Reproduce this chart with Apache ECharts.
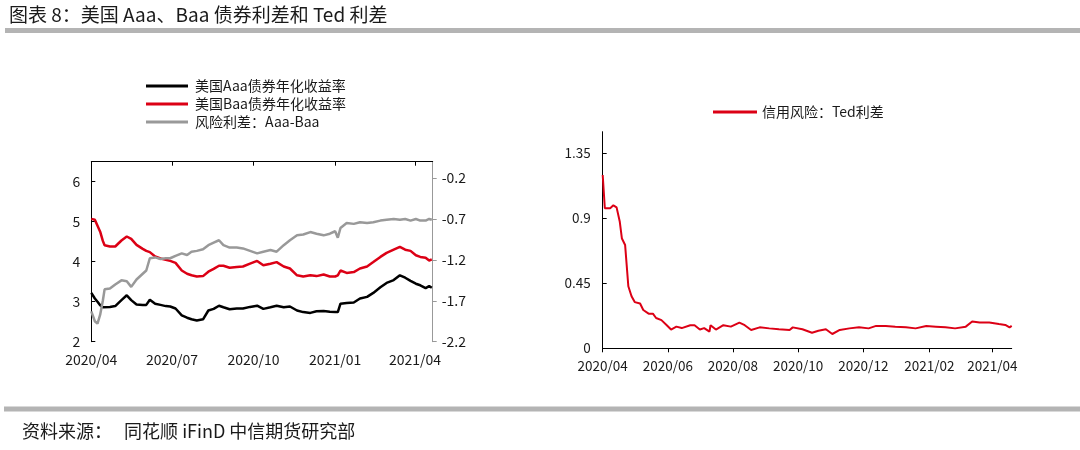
<!DOCTYPE html>
<html>
<head>
<meta charset="utf-8">
<script src="https://cdn.jsdelivr.net/npm/echarts@6/dist/echarts.min.js"></script>
<style>
html,body{margin:0;padding:0;background:#fff;}
#chart{width:1080px;height:450px;}
</style>
</head>
<body>
<div id="chart"></div>
<script>
// ---------- data ----------
const titleText = '图表 8：美国 Aaa、Baa 债券利差和 Ted 利差';
const sourceText = '资料来源：   同花顺 iFinD 中信期货研究部';

const leftNames = ['美国Aaa债券年化收益率', '美国Baa债券年化收益率', '风险利差：Aaa-Baa'];
const rightName = '信用风险：Ted利差';

const leftDates = ['2020-04-01','2020-04-05','2020-04-08','2020-04-11','2020-04-14','2020-04-16','2020-04-22','2020-04-28',
  '2020-05-05','2020-05-11','2020-05-16','2020-05-22','2020-05-29','2020-06-02','2020-06-06','2020-06-12','2020-06-18',
  '2020-06-24','2020-06-29','2020-07-05','2020-07-12','2020-07-18','2020-07-23','2020-07-29','2020-08-05','2020-08-11',
  '2020-08-17','2020-08-23','2020-08-28','2020-09-04','2020-09-12','2020-09-19','2020-09-27','2020-10-05','2020-10-12',
  '2020-10-20','2020-10-27','2020-11-04','2020-11-11','2020-11-19','2020-11-26','2020-12-04','2020-12-11','2020-12-19',
  '2020-12-26','2021-01-01','2021-01-04','2021-01-07','2021-01-14','2021-01-22','2021-01-29','2021-02-06','2021-02-13',
  '2021-02-21','2021-02-28','2021-03-08','2021-03-15','2021-03-21','2021-03-27','2021-04-02','2021-04-07','2021-04-13',
  '2021-04-17','2021-04-20'];
const aaaValues = [3.22,3.08,3.00,2.91,2.86,2.83,2.87,2.89,
  3.04,3.16,3.04,2.93,2.92,2.92,3.05,2.95,2.92,
  2.89,2.88,2.83,2.66,2.60,2.56,2.53,2.56,2.78,
  2.82,2.90,2.86,2.81,2.83,2.83,2.87,2.90,2.82,
  2.86,2.90,2.86,2.88,2.78,2.74,2.72,2.76,2.77,
  2.75,2.74,2.74,2.95,2.97,2.98,3.08,3.12,3.22,
  3.36,3.47,3.54,3.66,3.60,3.52,3.45,3.41,3.34,
  3.39,3.35];
const baaValues = [5.07,5.05,4.90,4.75,4.52,4.41,4.38,4.38,
  4.53,4.63,4.57,4.42,4.32,4.27,4.24,4.13,4.08,
  4.05,4.02,3.97,3.78,3.70,3.66,3.63,3.64,3.75,
  3.82,3.90,3.90,3.85,3.87,3.88,3.95,4.02,3.91,
  3.95,3.99,3.88,3.83,3.66,3.63,3.66,3.64,3.68,
  3.63,3.63,3.66,3.78,3.72,3.74,3.83,3.88,3.99,
  4.12,4.22,4.30,4.37,4.30,4.27,4.16,4.12,4.10,
  4.03,4.06];
const spreadValues = [-1.83,-1.95,-1.98,-1.87,-1.70,-1.56,-1.55,-1.50,
  -1.45,-1.46,-1.53,-1.44,-1.37,-1.33,-1.18,-1.17,-1.19,
  -1.18,-1.18,-1.15,-1.12,-1.14,-1.10,-1.09,-1.07,-1.02,
  -0.99,-0.96,-1.02,-1.05,-1.05,-1.06,-1.09,-1.12,-1.10,
  -1.08,-1.10,-1.02,-0.96,-0.90,-0.89,-0.86,-0.88,-0.90,
  -0.88,-0.85,-0.93,-0.81,-0.75,-0.76,-0.74,-0.75,-0.74,
  -0.72,-0.71,-0.70,-0.71,-0.70,-0.72,-0.70,-0.72,-0.72,
  -0.70,-0.71];

const tedDates = ['2020-04-01','2020-04-03','2020-04-08','2020-04-11','2020-04-14','2020-04-17','2020-04-19','2020-04-22',
  '2020-04-25','2020-04-28','2020-05-01','2020-05-06','2020-05-09','2020-05-14','2020-05-18','2020-05-21','2020-05-26',
  '2020-05-31','2020-06-04','2020-06-09','2020-06-14','2020-06-22','2020-06-26','2020-07-01','2020-07-05','2020-07-10',
  '2020-07-11','2020-07-16','2020-07-23','2020-07-30','2020-08-07','2020-08-12','2020-08-18','2020-08-26','2020-09-04',
  '2020-09-13','2020-09-23','2020-09-26','2020-10-05','2020-10-14','2020-10-20','2020-10-27','2020-11-02','2020-11-09',
  '2020-11-18','2020-11-27','2020-12-06','2020-12-13','2020-12-22','2020-12-31','2021-01-10','2021-01-19','2021-01-29',
  '2021-02-07','2021-02-16','2021-02-25','2021-03-07','2021-03-13','2021-03-20','2021-03-29','2021-04-07','2021-04-13',
  '2021-04-17','2021-04-19'];
const tedValues = [1.20,0.97,0.97,0.99,0.976,0.876,0.76,0.715,
  0.43,0.36,0.32,0.31,0.265,0.24,0.24,0.21,0.195,
  0.16,0.13,0.15,0.14,0.16,0.16,0.13,0.14,0.115,
  0.16,0.13,0.16,0.15,0.178,0.16,0.127,0.145,0.138,
  0.132,0.127,0.145,0.132,0.108,0.122,0.132,0.099,0.127,
  0.138,0.145,0.138,0.155,0.155,0.150,0.145,0.138,0.155,
  0.150,0.145,0.138,0.150,0.185,0.178,0.178,0.168,0.162,
  0.145,0.155];

const leftXTicks = ['2020-04-01','2020-07-01','2020-10-01','2021-01-01','2021-04-01'];
const rightXTicks = ['2020-04-01','2020-06-01','2020-08-01','2020-10-01','2020-12-01','2021-02-01','2021-04-01'];
const leftXRange = ['2020-04-01', '2021-04-21'];
const rightXRange = ['2020-04-01', '2021-04-19'];
const leftYTicks = [2,3,4,5,6];
const spreadYTicks = [-2.2,-1.7,-1.2,-0.7,-0.2];
const tedYTicks = [0,0.45,0.9,1.35];

// ---------- chart ----------
const FONT = '"Noto Sans CJK SC", "Noto Sans", sans-serif';
const ts = s => { const p = s.split('-').map(Number); return new Date(p[0], p[1] - 1, p[2]).getTime(); };
const pair = (dates, vals) => dates.map((d, i) => [ts(d), vals[i]]);
const fmtMonth = v => { const d = new Date(v); const m = d.getMonth() + 1; return d.getFullYear() + '/' + (m < 10 ? '0' + m : m); };

const chart = echarts.init(document.getElementById('chart'));
const axisTxt = { color: '#1a1a1a', fontFamily: FONT, fontSize: 14 };

function dateAxis(grid, range, ticks, fontSize) {
  const tv = ticks.map(ts);
  return {
    type: 'value', gridIndex: grid, min: ts(range[0]), max: ts(range[1]), scale: true,
    axisLine: { show: true, lineStyle: { color: '#000', width: 1 } },
    axisTick: { show: true, customValues: tv, length: 4, lineStyle: { color: '#000' } },
    axisLabel: Object.assign({ customValues: tv, formatter: fmtMonth, margin: 11 }, axisTxt, { fontSize: fontSize }),
    splitLine: { show: false }
  };
}

chart.setOption({
  backgroundColor: '#fff',
  animation: false,
  title: [
    { text: titleText, left: 4, top: 0, textStyle: { fontFamily: FONT, fontSize: 19, fontWeight: 'normal', color: '#1a1a1a' } },
    { text: sourceText, left: 17, top: 417, textStyle: { fontFamily: FONT, fontSize: 18, fontWeight: 'normal', color: '#1a1a1a' } }
  ],
  graphic: [
    { type: 'rect', shape: { x: 5, y: 28, width: 1075, height: 5 }, style: { fill: '#b4b4b4' } },
    { type: 'rect', shape: { x: 4, y: 406.5, width: 1076, height: 5 }, style: { fill: '#b4b4b4' } }
  ],
  legend: [
    { data: leftNames, orient: 'vertical', left: 141, top: 74, icon: 'rect', itemWidth: 42, itemHeight: 3, itemGap: 4,
      textStyle: { fontFamily: FONT, fontSize: 14, color: '#1a1a1a', padding: [0, 0, 0, 2] } },
    { data: [rightName], left: 708, top: 100, icon: 'rect', itemWidth: 44, itemHeight: 3,
      textStyle: { fontFamily: FONT, fontSize: 14, color: '#1a1a1a' } }
  ],
  grid: [
    { left: 91.3, top: 161.7, width: 341.4, height: 180 },
    { left: 602.7, top: 131.7, width: 409, height: 216.6 }
  ],
  xAxis: [
    dateAxis(0, leftXRange, leftXTicks, 14),
    dateAxis(1, rightXRange, rightXTicks, 13.5)
  ],
  yAxis: [
    { type: 'value', gridIndex: 0, min: 2, max: 6.5, position: 'left',
      axisLine: { show: true, lineStyle: { color: '#000' } },
      axisTick: { show: true, inside: true, length: 4, customValues: leftYTicks, lineStyle: { color: '#000' } },
      axisLabel: Object.assign({ customValues: leftYTicks, margin: 11 }, axisTxt),
      splitLine: { show: false } },
    { type: 'value', gridIndex: 0, min: -2.2, max: 0, position: 'right',
      axisLine: { show: true, lineStyle: { color: '#999' } },
      axisTick: { show: true, length: 4, customValues: spreadYTicks, lineStyle: { color: '#999' } },
      axisLabel: Object.assign({ customValues: spreadYTicks, margin: 9, formatter: v => v.toFixed(1) }, axisTxt),
      splitLine: { show: false } },
    { type: 'value', gridIndex: 1, min: 0, max: 1.5,
      axisLine: { show: true, lineStyle: { color: '#000' } },
      axisTick: { show: true, inside: true, length: 4, customValues: tedYTicks, lineStyle: { color: '#000' } },
      axisLabel: Object.assign({ customValues: tedYTicks, margin: 12 }, axisTxt, { fontSize: 13.5 }),
      splitLine: { show: false } }
  ],
  series: [
    { name: leftNames[0], type: 'line', xAxisIndex: 0, yAxisIndex: 0, symbol: 'none',
      data: pair(leftDates, aaaValues), lineStyle: { color: '#000', width: 2.5 }, itemStyle: { color: '#000' } },
    { name: leftNames[1], type: 'line', xAxisIndex: 0, yAxisIndex: 0, symbol: 'none',
      data: pair(leftDates, baaValues), lineStyle: { color: '#dc0015', width: 2.5 }, itemStyle: { color: '#dc0015' } },
    { name: leftNames[2], type: 'line', xAxisIndex: 0, yAxisIndex: 1, symbol: 'none',
      data: pair(leftDates, spreadValues), lineStyle: { color: '#999', width: 2.5 }, itemStyle: { color: '#999' } },
    { name: rightName, type: 'line', xAxisIndex: 1, yAxisIndex: 2, symbol: 'none',
      data: pair(tedDates, tedValues), lineStyle: { color: '#dc0015', width: 2 }, itemStyle: { color: '#dc0015' } }
  ]
});
</script>
</body>
</html>
